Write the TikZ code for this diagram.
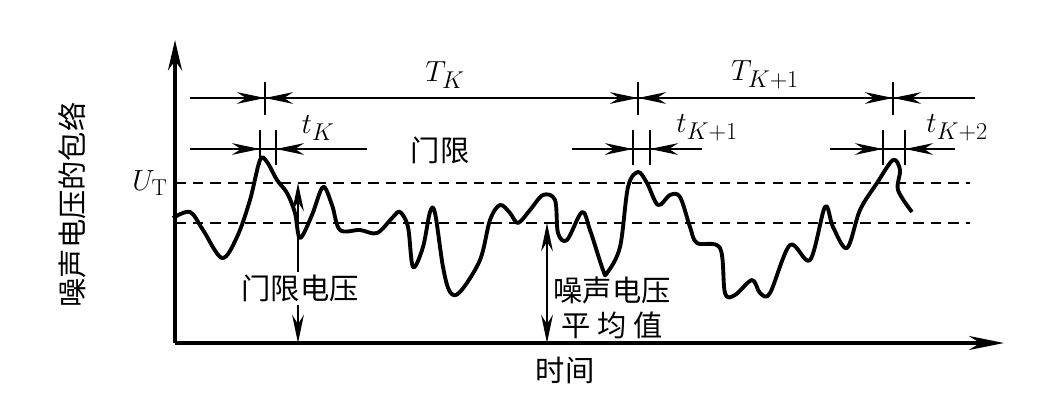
\documentclass[tikz,border=0pt]{standalone}
\usepackage{fontspec}
\newfontfamily\cjk{Noto Sans CJK SC}
\usetikzlibrary{arrows.meta,calc}

\begin{document}
\begin{tikzpicture}[
        x=0.03cm, y=-0.03cm,
        tip/.style={-{Stealth[length=24pt,width=10pt]}},
        dim/.style={line width=1.5pt},
        tick/.style={line width=2pt},
        lbl/.style={font=\cjk\fontsize{25}{30}\selectfont, inner sep=0pt},
        mlbl/.style={font=\fontsize{28}{32}\selectfont, inner sep=0pt},
    ]
\useasboundingbox (0,0) rectangle (1063,415);

% axes
\coordinate (O) at (175,343);
\draw[line width=2.8pt,-{Stealth[length=26pt,width=12pt]}] (O) -- (175,40) coordinate (ytop);
\draw[line width=2.8pt,-{Stealth[length=30pt,width=12pt]}] (O) -- (1004,343) coordinate (xend);

% threshold and mean levels
\draw[line width=1.8pt,dash pattern=on 9pt off 6pt] (175,183) -- (970,183);
\draw[line width=1.8pt,dash pattern=on 9pt off 6pt] (175,223) -- (970,223);

% period row
\draw[dim] (190,98) -- (975,98);
\foreach \x in {265,638,893} {
  \draw[tick] (\x,82) -- (\x,115);
  \draw[dim,tip] (\x-50,98) -- (\x,98);
  \draw[dim,tip] (\x+50,98) -- (\x,98);
}

% duration rows
\foreach \a/\b/\l/\r in {260/276/190/367, 633/650/572/702, 883/905/830/952} {
  \draw[dim] (\l,149) -- (\r,149);
  \draw[tick] (\a,130) -- (\a,165);
  \draw[tick] (\b,130) -- (\b,165);
  \draw[dim,tip] (\a-50,149) -- (\a,149);
  \draw[dim,tip] (\b+50,149) -- (\b,149);
}

% envelope of noise
\draw[line width=3.3pt,line join=round] plot[smooth,tension=0.55] coordinates {
 (173,218) (190,212) (203,230) (222,258) (237,237) (250,200) (260,160)
 (267,162) (277,180) (287,193) (295,213) (300,238) (312,215) (323,187)
 (332,205) (340,230) (360,230) (377,233) (393,217) (400,212) (408,227)
 (413,267) (423,247) (430,212) (435,213) (443,267) (450,292) (460,292)
 (480,260) (490,220) (500,205) (510,213) (518,223) (530,210) (543,195)
 (555,200) (558,233) (567,240) (582,212) (590,230) (603,270) (607,273)
 (620,247) (628,187) (638,172) (647,183) (658,205) (670,195) (680,197)
 (690,227) (697,243) (720,248) (725,293) (735,295) (752,280) (760,293)
 (770,293) (790,245) (810,260) (825,207) (833,227) (847,248) (860,210)
 (877,183) (893,160) (900,170) (898,190) (912,212)};

% threshold voltage
\coordinate (thr) at (298,183);
\coordinate (thrfoot) at (298,343);
\draw[line width=2pt,tip] (298,272) -- (thr);
\draw[line width=2pt,tip] (298,305) -- (thrfoot);
\node[lbl] (thrtxt) at (300,288) {门限电压};

% mean noise voltage
\coordinate (mean) at (547,223);
\coordinate (meanfoot) at (547,343);
\draw[line width=2pt,{Stealth[length=24pt,width=10pt]}-{Stealth[length=24pt,width=10pt]}] (meanfoot) -- (mean);
\node[lbl] (meantxt) at (612,290) {噪声电压};
\node[lbl] (meantxt2) at (612,325) {平\ 均\ 值};

% captions
\node[mlbl] (TK) at (445,75) {$T_K$};
\node[mlbl] (TK1) at (765,75) {$T_{K+1}$};
\node[mlbl] (tK) at (318,128) {$t_K$};
\node[mlbl] (tK1) at (707,128) {$t_{K+1}$};
\node[mlbl] (tK2) at (957,128) {$t_{K+2}$};
\node[lbl] (gate) at (440,150) {门限};
\node[mlbl] (UT) at (150,183) {$U_{\mathrm{T}}$};
\node[lbl] (time) at (565,370) {时间};
\node[lbl,rotate=90] (ylab) at (72,205) {噪声电压的包络};
\end{tikzpicture}
\end{document}
